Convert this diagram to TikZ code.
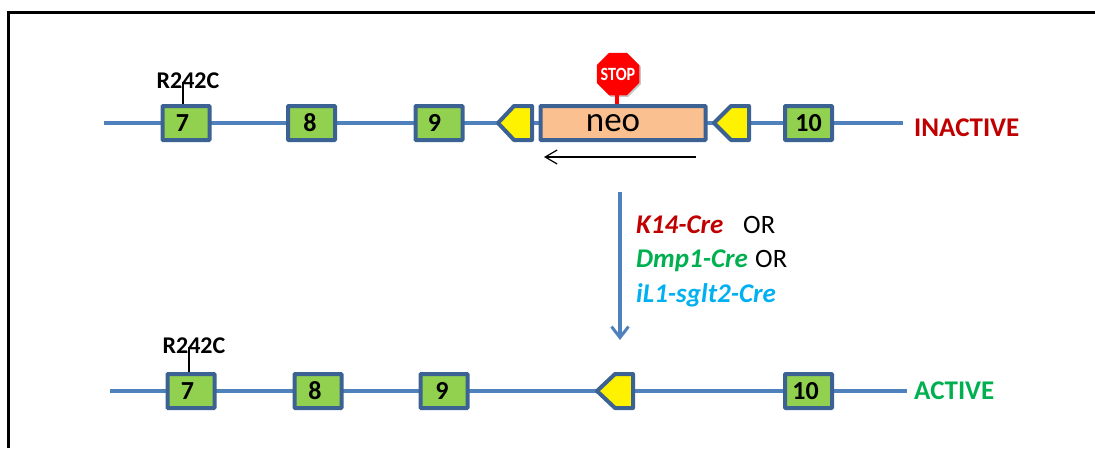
\documentclass[tikz,border=0pt]{standalone}
\usepackage{fontspec}
\setmainfont{Carlito}
\usetikzlibrary{arrows.meta,shapes.geometric}
\definecolor{bluel}{HTML}{4F81BD}
\definecolor{blued}{HTML}{3B6292}
\definecolor{exong}{HTML}{92D050}
\definecolor{neof}{HTML}{FAC090}
\definecolor{inred}{HTML}{C00000}
\definecolor{acgreen}{HTML}{00B050}
\definecolor{ilblue}{HTML}{00B0F0}
\tikzset{
  x=1pt,y=-1pt,
  exon/.style={draw=blued,fill=exong,line width=4pt,rounded corners=0.8pt,minimum width=47pt,minimum height=34pt,inner sep=0pt,font=\fontsize{26}{26}\selectfont\bfseries},
  neobox/.style={draw=blued,fill=neof,line width=4pt,rounded corners=0.8pt,minimum width=165pt,minimum height=34pt,inner sep=0pt,font=\fontsize{35}{35}\selectfont},
  gene/.style={bluel,line width=3.4pt},
  loxp/.style={draw=blued,fill=yellow,line width=4pt,line join=round},
  mut/.style={font=\fontsize{24}{24}\selectfont\bfseries,inner sep=0pt},
  state/.style={font=\fontsize{27}{27}\selectfont\bfseries,inner sep=0pt,anchor=west},
  cre/.style={font=\fontsize{27}{27}\selectfont\bfseries\itshape,inner sep=0pt,anchor=base west},
  ortext/.style={font=\fontsize{26.5}{26.5}\selectfont,inner sep=0pt,anchor=base west},
  octa/.style={regular polygon,regular polygon sides=8,minimum size=46pt,inner sep=0pt},
}
\begin{document}
\begin{tikzpicture}
\useasboundingbox (0,0) rectangle (1095,448);
% frame
\draw[black,line width=3pt] (1095,12) -- (8,12) -- (8,448);
% free ends
\coordinate (as) at (104,123); \coordinate (ae) at (903,123);
\coordinate (bs) at (110,391); \coordinate (be) at (907,391);
\draw[gene] (as) -- (ae);
\draw[gene] (bs) -- (be);
% top row
\node[exon] (e7) at (186,123) {\kern-7pt 7};
\node[exon] (e8) at (311.5,123) {\kern-3pt 8};
\node[exon] (e9) at (439,123) {\kern-9pt 9};
\node[neobox] (neo) at (623,123) {\raisebox{-3pt}{\kern-20pt neo}};
\node[exon] (e10) at (808.5,123) {10};
\draw[loxp] (532,106) -- (514,106) -- (498,123) -- (514,140) -- (532,140) -- cycle;
\draw[loxp] (749,106) -- (731,106) -- (714,123) -- (731,140) -- (749,140) -- cycle;
% mutation
\node[mut] (m1) at (188,80.5) {R242C};
\draw[black,line width=1.5pt] (183,82) -- (e7.north -| 183,0);
% stop sign
\node[octa,fill=gray!45] (stopshade) at (619.5,75.5) {};
\node[octa,fill=red] (stop) at (618,74) {};
\node[text=white,font=\fontsize{17}{17}\selectfont\bfseries,inner sep=0pt] (stoptext) at (618,74) {\scalebox{0.95}[1.1]{STOP}};
\draw[red,line width=3.5pt] (617,90) -- (neo.north -| 617,0);
% neo arrow
\coordinate (ra) at (696,157); \coordinate (rb) at (544,157);
\draw[black,line width=1.5pt,-{Straight Barb[length=12pt,width=14pt,line width=1.2pt]}] (ra) -- (rb);
\node[state,text=inred] (inact) at (914,128) {INACTIVE};
% cre arrow
\coordinate (ca) at (620,192); \coordinate (cb) at (620,340);
\draw[bluel,line width=4pt,-{Straight Barb[length=11pt,width=17pt,line width=3pt]}] (ca) -- (cb);
\node[cre,text=inred] (k14) at (636,233) {K14-Cre};
\node[ortext] (or1) at (743,233) {OR};
\node[cre,text=acgreen] (dmp) at (636,267) {Dmp1-Cre};
\node[ortext] (or2) at (755,267) {OR};
\node[cre,text=ilblue] (il) at (636,302) {iL1-sglt2-Cre};
% bottom row
\node[exon] (f7) at (191,391) {\kern-7pt 7};
\node[exon] (f8) at (318,391) {\kern-6pt 8};
\node[exon] (f9) at (444,391) {\kern-4pt 9};
\node[exon] (f10) at (808.5,391) {\kern-6pt 10};
\draw[loxp] (633,374) -- (615,374) -- (597,391) -- (615,408) -- (633,408) -- cycle;
\node[mut] (m2) at (194,345.5) {R242C};
\draw[black,line width=1.5pt] (189,347) -- (f7.north -| 189,0);
\node[state,text=acgreen] (act) at (914,391) {ACTIVE};
\end{tikzpicture}
\end{document}
